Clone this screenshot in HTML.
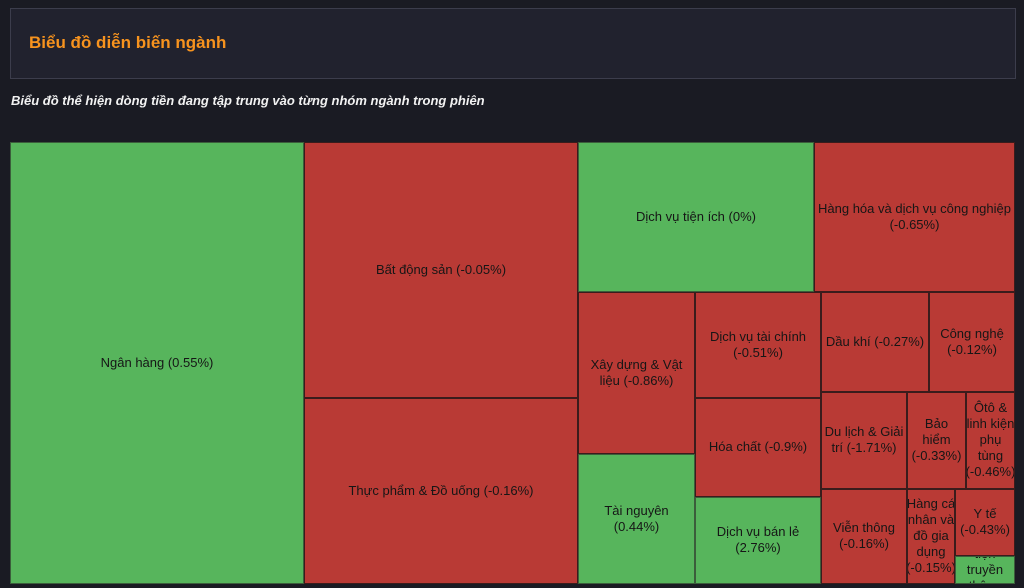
<!DOCTYPE html>
<html><head><meta charset="utf-8">
<style>
body{margin:0;width:1024px;height:588px;background:#1a1b23;overflow:hidden;font-family:"Liberation Sans",sans-serif;position:relative}
#hdr{position:absolute;left:10px;top:8px;width:1004px;height:69px;background:#21222e;border:1px solid #3c3d4c}
#hdr h1{margin:0;position:absolute;left:18px;top:24px;font-size:17px;font-weight:bold;color:#f7931e}
#sub{position:absolute;left:11px;top:93px;font-size:13px;font-style:italic;font-weight:bold;color:#f2f2f2}
#tm{position:absolute;left:10px;top:142px;width:1005px;height:442px}
.cell{position:absolute;box-sizing:border-box;border:1px solid #3a1c1c;display:flex;align-items:center;justify-content:center;text-align:center;overflow:hidden;font-size:13px;line-height:16px;color:#161616;padding:0 2px}
.up{background:#57b55c;border-color:#3b5e3b}
.dn{background:#b93a35}
</style></head><body>
<div id="hdr"><h1>Biểu đồ diễn biến ngành</h1></div>
<div id="sub">Biểu đồ thể hiện dòng tiền đang tập trung vào từng nhóm ngành trong phiên</div>
<div id="tm"></div>
<script>
const names=["Ngân hàng","Bất động sản","Thực phẩm & Đồ uống","Dịch vụ tiện ích","Hàng hóa và dịch vụ công nghiệp","Xây dựng & Vật liệu","Tài nguyên","Dịch vụ tài chính","Hóa chất","Dịch vụ bán lẻ","Dầu khí","Công nghệ","Du lịch & Giải trí","Bảo hiểm","Ôtô & linh kiện phụ tùng","Viễn thông","Hàng cá nhân và đồ gia dụng","Y tế","Phương tiện truyền thông"];
const changes=[0.55,-0.05,-0.16,0,-0.65,-0.86,0.44,-0.51,-0.9,2.76,-0.27,-0.12,-1.71,-0.33,-0.46,-0.16,-0.15,-0.43,0.2];
const weights=[129654,69870,50964,35400,30150,18837,15210,13230,12474,10962,10692,8514,8342,5723,4753,8170,4560,4020,1680];
// layout tree: indices into arrays; 'h' = side by side, 'v' = stacked
const tree={d:'h',c:[0,{d:'v',c:[1,2]},{d:'v',c:[{d:'h',c:[3,4]},{d:'h',c:[{d:'v',c:[5,6]},{d:'v',c:[7,8,9]},{d:'v',c:[{d:'h',c:[10,11]},{d:'h',c:[12,13,14]},{d:'h',c:[15,16,{d:'v',c:[17,18]}]}]}]}]}]};
const tm=document.getElementById('tm');
function tot(n){return typeof n==='number'?weights[n]:n.c.reduce((s,k)=>s+tot(k),0);}
function lay(n,x,y,w,h){
  if(typeof n==='number'){
    const el=document.createElement('div');
    
    
    el.className='cell '+(changes[n]>=0?'up':'dn');
    el.style.left=x+'px';el.style.top=y+'px';el.style.width=w+'px';el.style.height=h+'px';
    el.textContent=names[n]+' ('+changes[n]+'%)';
    tm.appendChild(el);return;
  }
  const T=tot(n);let o=0;
  n.c.forEach(k=>{const f=tot(k)/T;
    if(n.d==='h'){lay(k,x+o,y,w*f,h);o+=w*f;}else{lay(k,x,y+o,w,h*f);o+=h*f;}});
}
lay(tree,0,0,1005,442);
</script>
</body></html>
